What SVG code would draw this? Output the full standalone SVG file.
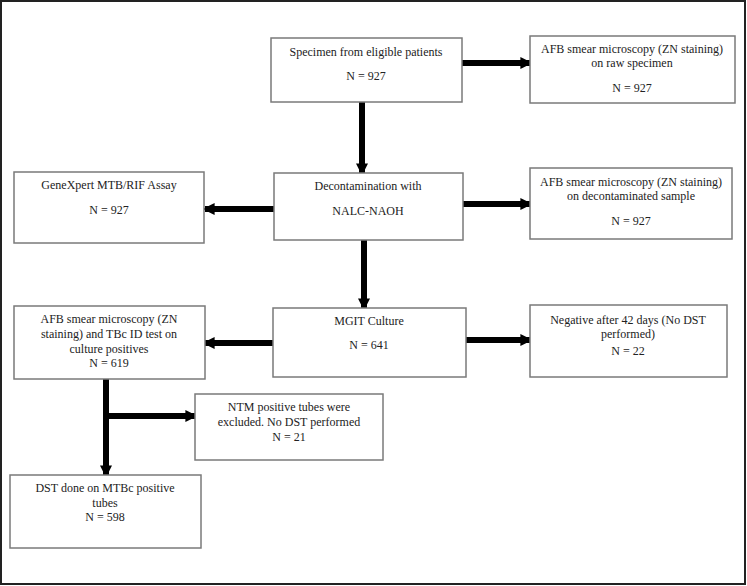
<svg xmlns="http://www.w3.org/2000/svg" width="747" height="586" viewBox="0 0 747 586">
<defs>
<style>
.box{fill:#fff;stroke:#7a7a7a;stroke-width:1.5}
.t{font-family:"Liberation Serif","Times New Roman",serif;font-size:12px;fill:#222;text-anchor:middle}
.c{stroke:#000;stroke-width:6;fill:none}
</style>
<marker id="ah" viewBox="0 0 10 10" refX="8" refY="5" markerWidth="2" markerHeight="2" orient="auto" markerUnits="strokeWidth">
<path d="M0,0 L10,5 L0,10 Z" fill="#000"/>
</marker>
</defs>
<rect x="0" y="0" width="747" height="586" fill="#fff"/>
<rect x="1" y="1" width="744" height="583" fill="none" stroke="#222" stroke-width="2"/>
<g id="connectors">
<line class="c" x1="462" y1="63" x2="530" y2="63" marker-end="url(#ah)"/>
<line class="c" x1="362" y1="102" x2="362" y2="173" marker-end="url(#ah)"/>
<line class="c" x1="463" y1="204" x2="530" y2="204" marker-end="url(#ah)"/>
<line class="c" x1="274" y1="209" x2="205" y2="209" marker-end="url(#ah)"/>
<line class="c" x1="364" y1="240" x2="364" y2="308" marker-end="url(#ah)"/>
<line class="c" x1="273" y1="343" x2="205" y2="343" marker-end="url(#ah)"/>
<line class="c" x1="466" y1="340" x2="530" y2="340" marker-end="url(#ah)"/>
<line class="c" x1="106" y1="379" x2="106" y2="475" marker-end="url(#ah)"/>
<line class="c" x1="109" y1="416" x2="195" y2="416" marker-end="url(#ah)"/>
</g>
<g id="specimen">
<rect class="box" x="271" y="38" width="191" height="64"/>
<text class="t" x="366" y="56">Specimen from eligible patients</text>
<text class="t" x="366" y="80">N = 927</text>
</g>
<g id="afb-raw">
<rect class="box" x="530" y="36" width="205" height="67"/>
<text class="t" x="632" y="53">AFB smear microscopy (ZN staining)</text>
<text class="t" x="632" y="67">on raw specimen</text>
<text class="t" x="632" y="92">N = 927</text>
</g>
<g id="decont">
<rect class="box" x="274" y="173" width="189" height="67"/>
<text class="t" x="368" y="190">Decontamination with</text>
<text class="t" x="368" y="215">NALC-NAOH</text>
</g>
<g id="afb-decont">
<rect class="box" x="530" y="168" width="202" height="71"/>
<text class="t" x="631" y="186">AFB smear microscopy (ZN staining)</text>
<text class="t" x="631" y="200">on decontaminated sample</text>
<text class="t" x="631" y="225">N = 927</text>
</g>
<g id="genexpert">
<rect class="box" x="14" y="172" width="190" height="71"/>
<text class="t" x="109" y="189">GeneXpert MTB/RIF Assay</text>
<text class="t" x="109" y="214">N = 927</text>
</g>
<g id="mgit">
<rect class="box" x="273" y="308" width="193" height="69"/>
<text class="t" x="369" y="325">MGIT Culture</text>
<text class="t" x="369" y="349">N = 641</text>
</g>
<g id="afb-culture">
<rect class="box" x="14" y="306" width="191" height="73"/>
<text class="t" x="109" y="323">AFB smear microscopy (ZN</text>
<text class="t" x="109" y="338">staining) and TBc ID test on</text>
<text class="t" x="109" y="353">culture positives</text>
<text class="t" x="109" y="367">N = 619</text>
</g>
<g id="negative">
<rect class="box" x="530" y="305" width="197" height="72"/>
<text class="t" x="628" y="324">Negative after 42 days (No DST</text>
<text class="t" x="628" y="338">performed)</text>
<text class="t" x="628" y="355">N = 22</text>
</g>
<g id="ntm">
<rect class="box" x="195" y="394" width="188" height="66"/>
<text class="t" x="289" y="411">NTM positive tubes were</text>
<text class="t" x="289" y="426">excluded. No DST performed</text>
<text class="t" x="289" y="441">N = 21</text>
</g>
<g id="dst">
<rect class="box" x="10" y="475" width="191" height="73"/>
<text class="t" x="105" y="492">DST done on MTBc positive</text>
<text class="t" x="105" y="507">tubes</text>
<text class="t" x="105" y="521">N = 598</text>
</g>
</svg>
